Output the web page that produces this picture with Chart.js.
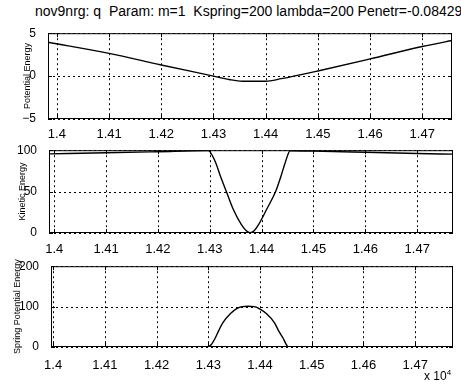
<!DOCTYPE html>
<html>
<head>
<meta charset="utf-8">
<script src="https://cdn.jsdelivr.net/npm/chart.js@4"></script>
<style>
  html, body { margin: 0; padding: 0; background: #fff; }
  body { width: 461px; height: 387px; position: relative; overflow: hidden; font-family: "Liberation Sans", Arial, sans-serif; }
  canvas { position: absolute; left: 0; }
  #title { position: absolute; left: 35px; top: 3px; font-size: 14px; white-space: pre; color: #000; }
  #scale { position: absolute; left: 424px; top: 368px; font-size: 12px; color: #000; }
  #scale sup { font-size: 8px; }
</style>
</head>
<body>
<div id="title">nov9nrg: q  Param: m=1  Kspring=200 lambda=200 Penetr=-0.084296</div>
<canvas id="pe" width="461" height="119" style="top:22px"></canvas>
<canvas id="ke" width="461" height="116" style="top:139px"></canvas>
<canvas id="spe" width="461" height="116" style="top:255px"></canvas>
<div id="scale">x 10<sup>4</sup></div>
<script>
// x values are in units of 10^4
const xTicks = [1.40, 1.41, 1.42, 1.43, 1.44, 1.45, 1.46, 1.47];

// potential energy
const peX = [1.3983, 1.41, 1.42, 1.43, 1.433, 1.4355, 1.44, 1.443, 1.45, 1.46, 1.47, 1.4766];
const peY = [3.95, 2.65, 1.3, 0.0, -0.4, -0.6, -0.6, -0.3, 0.6, 2.0, 3.45, 4.25];
const peTicks = [-5, 0, 5];

// kinetic energy
const keX = [1.3990, 1.41, 1.42, 1.4297, 1.4310, 1.4321, 1.4332, 1.4345, 1.4361, 1.4370, 1.4378,
             1.4386, 1.4394, 1.4410, 1.4427, 1.4437, 1.4447, 1.4455, 1.45, 1.46, 1.47, 1.4770];
const keY = [95.6, 96.9, 98.2, 99.5, 87, 68, 50, 29, 10, 3, 0.3,
             3, 10, 29, 50, 68, 88, 99.3, 98.9, 97.5, 96, 95.2];
const keTicks = [0, 50, 100];

// spring potential energy
const speX = [1.3996, 1.42, 1.4297, 1.4305, 1.4313, 1.4320, 1.4328, 1.4343, 1.4355, 1.4365, 1.4377,
              1.4389, 1.4400, 1.4412, 1.4428, 1.4436, 1.4445, 1.4450, 1.4455, 1.46, 1.4773];
const speY = [0, 0, 0, 5, 21, 40, 60, 83, 95, 100, 101,
              100, 94, 83, 60, 40, 21, 8, 0, 0, 0];
const speTicks = [0, 100, 200];

const FONT = "'Liberation Sans', Arial, sans-serif";

// dotted grid at the tick positions (MATLAB "grid on")
const gridPlugin = {
  id: 'dotgrid',
  afterDatasetsDraw(chart) {
    const { ctx, chartArea: a, scales: { x, y } } = chart;
    ctx.save();
    ctx.strokeStyle = '#000';
    ctx.lineWidth = 1;
    ctx.setLineDash([2, 3]);
    x.ticks.forEach(t => {
      const px = Math.round(x.getPixelForValue(t.value)) + 0.5;
      ctx.beginPath();
      ctx.moveTo(px, a.top); ctx.lineTo(px, a.bottom);
      ctx.stroke();
    });
    y.ticks.forEach(t => {
      const py = Math.round(y.getPixelForValue(t.value)) + 0.5;
      ctx.beginPath();
      ctx.moveTo(a.left, py); ctx.lineTo(a.right, py);
      ctx.stroke();
    });
    ctx.restore();
  }
};

// box round the plot with inward tick marks
const boxPlugin = {
  id: 'box',
  afterDraw(chart) {
    const { ctx, chartArea: a, scales: { x, y } } = chart;
    ctx.save();
    ctx.strokeStyle = '#000';
    ctx.lineWidth = 1;
    ctx.strokeRect(a.left + 0.5, a.top + 0.5, a.right - a.left - 1, a.bottom - a.top - 1);
    ctx.beginPath();
    x.ticks.forEach(t => {
      const px = Math.round(x.getPixelForValue(t.value)) + 0.5;
      ctx.moveTo(px, a.bottom); ctx.lineTo(px, a.bottom - 4);
      ctx.moveTo(px, a.top); ctx.lineTo(px, a.top + 4);
    });
    y.ticks.forEach(t => {
      const py = Math.round(y.getPixelForValue(t.value)) + 0.5;
      ctx.moveTo(a.left, py); ctx.lineTo(a.left + 4, py);
      ctx.moveTo(a.right, py); ctx.lineTo(a.right - 4, py);
    });
    ctx.stroke();
    ctx.restore();
  }
};

function makeChart(id, xs, ys, opts) {
  const points = xs.map((v, i) => ({ x: v, y: ys[i] }));
  new Chart(document.getElementById(id), {
    type: 'line',
    data: {
      datasets: [{
        data: points,
        borderColor: '#000',
        borderWidth: 1.4,
        pointRadius: 0,
        cubicInterpolationMode: 'monotone',
        fill: false
      }]
    },
    options: {
      responsive: false,
      animation: false,
      layout: { padding: { left: 0, right: 461 - opts.right, top: 8, bottom: 0 } },
      plugins: { legend: { display: false }, tooltip: { enabled: false } },
      scales: {
        x: {
          type: 'linear',
          min: opts.xMin,
          max: opts.xMax,
          afterBuildTicks: axis => { axis.ticks = xTicks.map(v => ({ value: v })); },
          afterFit: axis => { axis.height = opts.xH; },
          grid: { display: false },
          border: { display: false },
          ticks: {
            color: '#000',
            padding: opts.xPad,
            maxRotation: 0,
            autoSkip: false,
            font: { family: FONT, size: 13 },
            callback: v => String(Math.round(v * 100) / 100)
          }
        },
        y: {
          min: opts.yTicks[0],
          max: opts.yTicks[opts.yTicks.length - 1],
          afterBuildTicks: axis => { axis.ticks = opts.yTicks.map(v => ({ value: v })); },
          afterFit: axis => { axis.width = opts.left; },
          grid: { display: false },
          border: { display: false },
          ticks: {
            color: '#000',
            padding: 4,
            font: { family: FONT, size: 12 },
            callback: v => v < 0 ? '\u2212' + Math.abs(v) : String(v)
          },
          title: {
            display: true,
            text: opts.label,
            color: '#000',
            font: { family: FONT, size: 9 },
            padding: { top: opts.titlePad, bottom: 0 }
          }
        }
      }
    },
    plugins: [gridPlugin, boxPlugin]
  });
}

makeChart('pe', peX, peY, {
  xMin: 1.3983, xMax: 1.4757, left: 48, right: 452, xH: 22, xPad: 0,
  yTicks: peTicks, label: 'Potential Energy', titlePad: 22
});
makeChart('ke', keX, keY, {
  xMin: 1.3990, xMax: 1.4769, left: 49, right: 453, xH: 22, xPad: 1,
  yTicks: keTicks, label: 'Kinetic Energy', titlePad: 17
});
makeChart('spe', speX, speY, {
  xMin: 1.3996, xMax: 1.4773, left: 51, right: 453, xH: 24, xPad: 3,
  yTicks: speTicks, label: 'Spring Potential Energy', titlePad: 12
});
</script>
</body>
</html>
